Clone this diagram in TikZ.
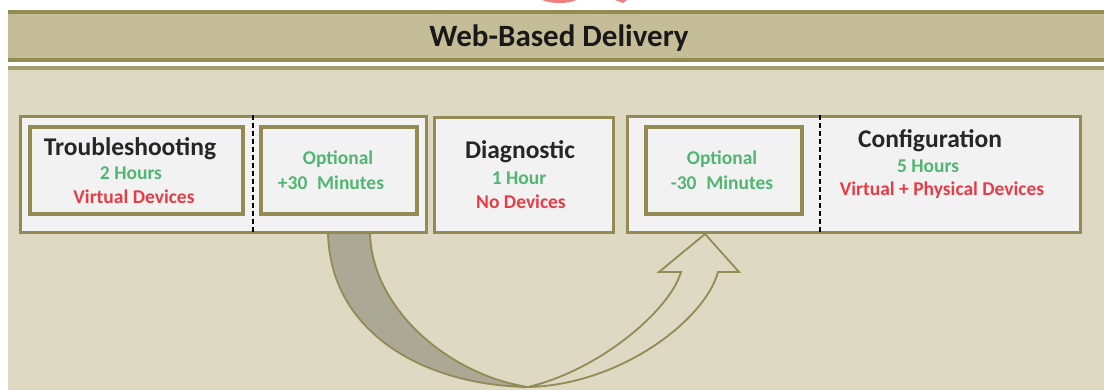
\documentclass[tikz,border=0pt]{standalone}
\usepackage{fontspec}
\setmainfont{Carlito}
\definecolor{bgtan}{HTML}{DDD9C3}
\definecolor{hdtan}{HTML}{C4BD97}
\definecolor{olive}{HTML}{948A54}
\definecolor{boxfill}{HTML}{F2F2F2}
\definecolor{grn}{HTML}{52B574}
\definecolor{rd}{HTML}{E53D48}
\definecolor{tailgray}{HTML}{ABA896}
\definecolor{pinkred}{HTML}{F08080}
\begin{document}
\begin{tikzpicture}[x=1pt,y=-1pt,
  outerbox/.style={draw=olive, line width=3pt, fill=boxfill, inner sep=0pt},
  innerbox/.style={draw=olive, line width=3.5pt, fill=boxfill, inner sep=0pt},
  divider/.style={black, line width=1.4pt, dash pattern=on 5pt off 3pt},
  ttl/.style={font=\bfseries\fontsize{25.5}{27}\selectfont, text=black!85, inner sep=0pt},
  sub/.style={font=\bfseries\fontsize{19.5}{21}\selectfont, inner sep=0pt},
  arrowline/.style={draw=olive, line width=1.8pt, line join=miter}
]
\useasboundingbox (0,0) rectangle (1104,390);
% background
\fill[white] (0,0) rectangle (1104,390);
\fill[bgtan] (8,70) rectangle (1104,390);
\fill[pinkred] (542,0) -- (576,0) .. controls (570,4) and (550,4) .. cycle;
\fill[pinkred] (615,0) -- (627,0) -- (623,3) -- cycle;
% header
\fill[olive] (8,10) rectangle (1104,14);
\fill[hdtan] (8,14) rectangle (1104,58);
\fill[olive] (8,58) rectangle (1104,62);
\fill[olive!85] (8,66.5) rectangle (1104,70);
\node[font=\bfseries\fontsize{31}{33}\selectfont, text=black!90, inner sep=0pt] (title) at (559,38) {Web-Based Delivery};

% curved arrow
\coordinate (L1) at (328,233);
\coordinate (L2) at (370,233);
\coordinate (B) at (528,387);
\coordinate (R1) at (718,272);
\coordinate (R2) at (681,272);
\coordinate (W1) at (659,272);
\coordinate (W2) at (739,272);
\coordinate (T) at (705,234);
\path[arrowline, fill=tailgray] (L1) .. controls (330,330) and (420,385) .. (B)
   .. controls (450,375) and (372,310) .. (L2) -- cycle;
\path[arrowline, fill=bgtan] (B) .. controls (600,370) and (670,310) .. (R2)
   -- (W1) -- (T) -- (W2) -- (R1) .. controls (705,320) and (620,385) .. (B) -- cycle;

% boxes
\node[outerbox, minimum width=406pt, minimum height=116pt] (box1) at (223,175) {};
\node[innerbox, minimum width=213pt, minimum height=87pt] (trb) at (136.5,170.5) {};
\node[innerbox, minimum width=156pt, minimum height=87pt] (opt1) at (339,170.5) {};
\draw[divider] (box1.north -| 253,0) -- (box1.south -| 253,0);
\node[outerbox, minimum width=179pt, minimum height=115pt] (diag) at (523.5,175) {};
\node[outerbox, minimum width=453pt, minimum height=116pt] (box3) at (853.5,175) {};
\node[innerbox, minimum width=156pt, minimum height=87pt] (opt2) at (724,170.5) {};
\draw[divider] (box3.north -| 820,0) -- (box3.south -| 820,0);

% texts
\node[ttl] (t1) at (130,149) {Troubleshooting};
\node[sub, text=grn] (t1a) at (131,173) {2 Hours};
\node[sub, text=rd] (t1b) at (134,197) {Virtual Devices};
\node[sub, text=grn] (o1a) at (338,159) {Optional};
\node[sub, text=grn] (o1b) at (331,183) {+30\,\,\,Minutes};
\node[ttl] (t2) at (520,152) {Diagnostic};
\node[sub, text=grn] (t2a) at (519,178) {1 Hour};
\node[sub, text=rd] (t2b) at (521,202) {No Devices};
\node[sub, text=grn] (o2a) at (722,159) {Optional};
\node[sub, text=grn] (o2b) at (722,183) {-30\,\,\,Minutes};
\node[ttl] (t3) at (930,141) {Configuration};
\node[sub, text=grn] (t3a) at (928,166) {5 Hours};
\node[sub, text=rd] (t3b) at (942,190) {Virtual + Physical Devices};
\end{tikzpicture}
\end{document}
